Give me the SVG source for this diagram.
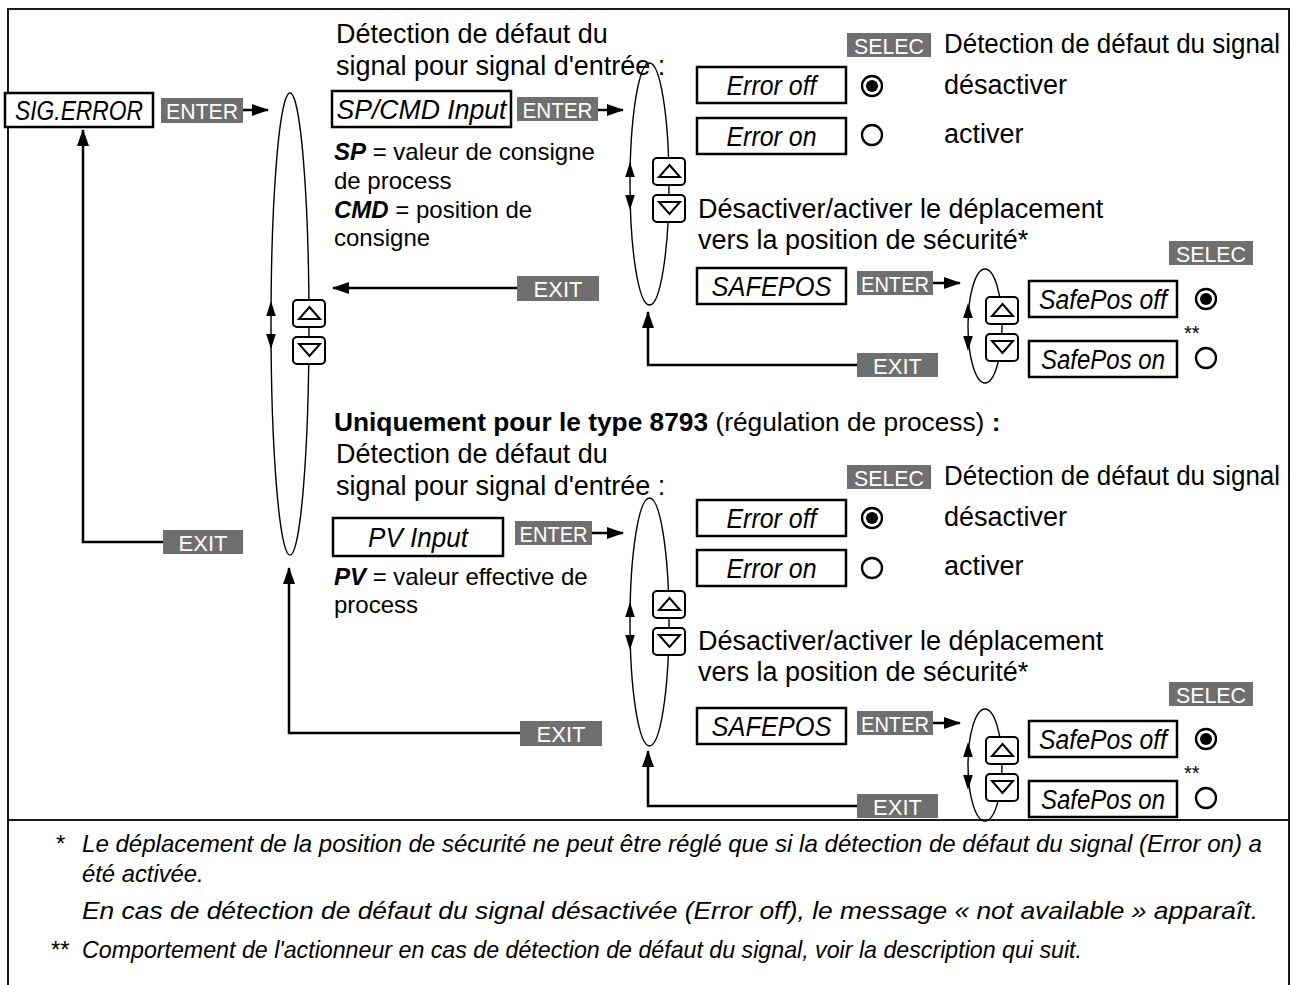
<svg xmlns="http://www.w3.org/2000/svg" xmlns:xlink="http://www.w3.org/1999/xlink" width="1294" height="985" viewBox="0 0 1294 985">
  <style>
    text { font-family: "Liberation Sans", Arial, Helvetica, sans-serif; fill: #000; }
    .frame { fill: none; stroke: #1a1a1a; stroke-width: 2; }
    .box { fill: #fff; stroke: #000; stroke-width: 2.5; }
    .lbl { font-size: 27px; font-style: italic; text-anchor: middle; }
    .key { fill: #6f6f6f; }
    .keytxt { font-size: 22px; fill: #fff; text-anchor: middle; }
    .hd { font-size: 27px; }
    .hd2 { font-size: 26.3px; }
    .ds { font-size: 24px; }
    .b { font-weight: bold; }
    .bi { font-weight: bold; font-style: italic; }
    .ell { fill: none; stroke: #000; stroke-width: 1.4; }
    .conn { fill: none; stroke: #000; stroke-width: 2.5; }
    .btn { fill: #fff; stroke: #000; stroke-width: 2; }
    .tri { fill: none; stroke: #000; stroke-width: 2; stroke-linejoin: miter; }
    .ring { fill: #fff; stroke: #000; stroke-width: 2.3; }
    .dot { fill: #000; }
    .head { fill: #000; }
    .fn { font-size: 23.8px; font-style: italic; }
    .star { font-size: 20px; }
  </style>
  <defs>
    <marker id="ah" markerWidth="17" markerHeight="12" refX="16" refY="6" orient="auto" markerUnits="userSpaceOnUse">
      <path d="M0,0 L17,6 L0,12 z" class="head"/>
    </marker>
    <!-- up / down key buttons -->
    <g id="btnUp">
      <rect class="btn" x="0" y="0" width="32" height="27" rx="4"/>
      <path class="tri" d="M16.5,7 L27,19 L6,19 z"/>
    </g>
    <g id="btnDn">
      <rect class="btn" x="0" y="0" width="32" height="27" rx="4"/>
      <path class="tri" d="M6,7 L27,7 L16.5,19 z"/>
    </g>
    <!-- double arrow drawn on the left side of a selection loop -->
    <g id="updn">
      <path class="head" d="M0,-24 L4.8,-9 L-4.8,-9 z"/>
      <path class="head" d="M0,24 L4.8,9 L-4.8,9 z"/>
    </g>
    <g id="radioOn">
      <circle class="ring" r="10"/>
      <circle class="dot" r="6"/>
    </g>
    <g id="radioOff">
      <circle class="ring" r="10"/>
    </g>
  </defs>

  <!-- outer frame and footnote divider -->
  <path class="frame" d="M8,985 V9 H1289 V985"/>
  <path class="frame" d="M8,820 H1289"/>

  <!-- connectors -->
  <g id="connectors">
    <path class="conn" d="M243,110 H268" marker-end="url(#ah)"/>
    <path class="conn" d="M598,110 H623" marker-end="url(#ah)"/>
    <path class="conn" d="M933,283 H960" marker-end="url(#ah)"/>
    <path class="conn" d="M592,533 H623" marker-end="url(#ah)"/>
    <path class="conn" d="M933,723 H960" marker-end="url(#ah)"/>
    <path class="conn" d="M517,288 H333" marker-end="url(#ah)"/>
    <path class="conn" d="M163,542 H83 V130" marker-end="url(#ah)"/>
    <path class="conn" d="M520,733 H289 V568" marker-end="url(#ah)"/>
    <path class="conn" d="M857,365 H648 V312" marker-end="url(#ah)"/>
    <path class="conn" d="M857,806 H648 V751" marker-end="url(#ah)"/>
    <rect class="key" x="161" y="98" width="82" height="25"/>
    <text class="keytxt" x="202" y="118.5" textLength="72" lengthAdjust="spacingAndGlyphs">ENTER</text>
    <rect class="key" x="517" y="97" width="81" height="24"/>
    <text class="keytxt" x="557.5" y="117.5" textLength="70" lengthAdjust="spacingAndGlyphs">ENTER</text>
    <rect class="key" x="857" y="271" width="76" height="24"/>
    <text class="keytxt" x="895" y="291.5" textLength="68" lengthAdjust="spacingAndGlyphs">ENTER</text>
    <rect class="key" x="515" y="521" width="77" height="24"/>
    <text class="keytxt" x="553.5" y="541.5" textLength="68" lengthAdjust="spacingAndGlyphs">ENTER</text>
    <rect class="key" x="857" y="711" width="76" height="24"/>
    <text class="keytxt" x="895" y="731.5" textLength="68" lengthAdjust="spacingAndGlyphs">ENTER</text>
    <rect class="key" x="517" y="276" width="82" height="25"/>
    <text class="keytxt" x="558" y="296.5">EXIT</text>
    <rect class="key" x="163" y="530" width="80" height="24"/>
    <text class="keytxt" x="203" y="550.5">EXIT</text>
    <rect class="key" x="520" y="721" width="82" height="25"/>
    <text class="keytxt" x="561" y="741.5">EXIT</text>
    <rect class="key" x="857" y="353" width="81" height="24"/>
    <text class="keytxt" x="897.5" y="373.5">EXIT</text>
    <rect class="key" x="857" y="794" width="81" height="24"/>
    <text class="keytxt" x="897.5" y="814.5">EXIT</text>
  </g>

  <!-- main menu entry -->
  <g id="sig-error">
    <rect class="box" x="5" y="93" width="148" height="34"/>
    <text class="lbl" x="79" y="119.5" textLength="128" lengthAdjust="spacingAndGlyphs">SIG.ERROR</text>
  </g>

  <!-- main selection loop -->
  <g id="loop-main">
    <ellipse class="ell" cx="290" cy="324" rx="19" ry="231"/>
    <use xlink:href="#updn" x="271" y="325"/>
    <use xlink:href="#btnUp" x="293" y="300"/>
    <use xlink:href="#btnDn" x="293" y="337"/>
  </g>

  <!-- SP/CMD input branch -->
  <g id="sp-cmd-input">
    <text class="hd" x="336" y="43">Détection de défaut du</text>
    <text class="hd" x="336" y="75">signal pour signal d'entrée :</text>
    <rect class="box" x="332" y="91" width="179" height="36"/>
    <text class="lbl" x="421.5" y="118.5" textLength="170" lengthAdjust="spacingAndGlyphs">SP/CMD Input</text>
    <text class="ds" x="334" y="160"><tspan class="bi">SP</tspan> = valeur de consigne</text>
    <text class="ds" x="334" y="189">de process</text>
    <text class="ds" x="334" y="218"><tspan class="bi">CMD</tspan> = position de</text>
    <text class="ds" x="334" y="246">consigne</text>
  </g>

  <g id="loop-sp-cmd">
    <ellipse class="ell" cx="649.5" cy="184" rx="19.5" ry="121"/>
    <use xlink:href="#updn" x="630" y="186"/>
    <use xlink:href="#btnUp" x="653" y="158"/>
    <use xlink:href="#btnDn" x="653" y="195"/>
  </g>

  <g id="error-select-1">
    <rect class="key" x="847" y="33" width="84" height="24"/>
    <text class="keytxt" x="889" y="53.5" textLength="70" lengthAdjust="spacingAndGlyphs">SELEC</text>
    <text class="hd" x="944" y="53" textLength="336" lengthAdjust="spacingAndGlyphs">Détection de défaut du signal</text>
    <rect class="box" x="697" y="67" width="149" height="36"/>
    <text class="lbl" x="771.5" y="94.5" textLength="90" lengthAdjust="spacingAndGlyphs">Error off</text>
    <use xlink:href="#radioOn" x="872" y="86"/>
    <text class="hd" x="944" y="94">désactiver</text>
    <rect class="box" x="697" y="118" width="149" height="36"/>
    <text class="lbl" x="771.5" y="145.5" textLength="90" lengthAdjust="spacingAndGlyphs">Error on</text>
    <use xlink:href="#radioOff" x="872" y="135"/>
    <text class="hd" x="944" y="143">activer</text>
  </g>

  <g id="safepos-1">
    <text class="hd" x="698" y="218">Désactiver/activer le déplacement</text>
    <text class="hd" x="698" y="249">vers la position de sécurité*</text>
    <rect class="box" x="697" y="268" width="149" height="36"/>
    <text class="lbl" x="771.5" y="295.5" textLength="120" lengthAdjust="spacingAndGlyphs">SAFEPOS</text>
  </g>

  <g id="safepos-select-1">
    <rect class="key" x="1169" y="241" width="84" height="24"/>
    <text class="keytxt" x="1211" y="261.5" textLength="70" lengthAdjust="spacingAndGlyphs">SELEC</text>
    <ellipse class="ell" cx="985" cy="326" rx="17" ry="57"/>
    <use xlink:href="#updn" x="968" y="327"/>
    <use xlink:href="#btnUp" x="986" y="297"/>
    <use xlink:href="#btnDn" x="986" y="334"/>
    <rect class="box" x="1029" y="281" width="148" height="36"/>
    <text class="lbl" x="1103" y="308.5" textLength="128" lengthAdjust="spacingAndGlyphs">SafePos off</text>
    <use xlink:href="#radioOn" x="1206" y="299"/>
    <text class="star" x="1184" y="340">**</text>
    <rect class="box" x="1029" y="341" width="148" height="36"/>
    <text class="lbl" x="1103" y="368.5" textLength="124" lengthAdjust="spacingAndGlyphs">SafePos on</text>
    <use xlink:href="#radioOff" x="1206" y="358"/>
  </g>

  <!-- PV input branch (type 8793 only) -->
  <g id="pv-input">
    <text class="hd2" x="334" y="431"><tspan class="b">Uniquement pour le type 8793</tspan> (régulation de process) <tspan class="b">:</tspan></text>
    <text class="hd" x="336" y="463">Détection de défaut du</text>
    <text class="hd" x="336" y="495">signal pour signal d'entrée :</text>
    <rect class="box" x="333" y="518" width="170" height="38"/>
    <text class="lbl" x="418" y="546.5" textLength="100" lengthAdjust="spacingAndGlyphs">PV Input</text>
    <text class="ds" x="334" y="585"><tspan class="bi">PV</tspan> = valeur effective de</text>
    <text class="ds" x="334" y="613">process</text>
  </g>

  <g id="loop-pv">
    <ellipse class="ell" cx="649.5" cy="622" rx="19.5" ry="124"/>
    <use xlink:href="#updn" x="630" y="626"/>
    <use xlink:href="#btnUp" x="653" y="591"/>
    <use xlink:href="#btnDn" x="653" y="628"/>
  </g>

  <g id="error-select-2">
    <rect class="key" x="847" y="465" width="84" height="24"/>
    <text class="keytxt" x="889" y="485.5" textLength="70" lengthAdjust="spacingAndGlyphs">SELEC</text>
    <text class="hd" x="944" y="485" textLength="336" lengthAdjust="spacingAndGlyphs">Détection de défaut du signal</text>
    <rect class="box" x="697" y="500" width="149" height="36"/>
    <text class="lbl" x="771.5" y="527.5" textLength="90" lengthAdjust="spacingAndGlyphs">Error off</text>
    <use xlink:href="#radioOn" x="872" y="518"/>
    <text class="hd" x="944" y="526">désactiver</text>
    <rect class="box" x="697" y="550" width="149" height="36"/>
    <text class="lbl" x="771.5" y="577.5" textLength="90" lengthAdjust="spacingAndGlyphs">Error on</text>
    <use xlink:href="#radioOff" x="872" y="568"/>
    <text class="hd" x="944" y="575">activer</text>
  </g>

  <g id="safepos-2">
    <text class="hd" x="698" y="650">Désactiver/activer le déplacement</text>
    <text class="hd" x="698" y="681">vers la position de sécurité*</text>
    <rect class="box" x="697" y="708" width="149" height="36"/>
    <text class="lbl" x="771.5" y="735.5" textLength="120" lengthAdjust="spacingAndGlyphs">SAFEPOS</text>
  </g>

  <g id="safepos-select-2">
    <rect class="key" x="1169" y="682" width="84" height="24"/>
    <text class="keytxt" x="1211" y="702.5" textLength="70" lengthAdjust="spacingAndGlyphs">SELEC</text>
    <ellipse class="ell" cx="985" cy="765" rx="17" ry="56"/>
    <use xlink:href="#updn" x="968" y="766"/>
    <use xlink:href="#btnUp" x="986" y="737"/>
    <use xlink:href="#btnDn" x="986" y="774"/>
    <rect class="box" x="1029" y="721" width="148" height="36"/>
    <text class="lbl" x="1103" y="748.5" textLength="128" lengthAdjust="spacingAndGlyphs">SafePos off</text>
    <use xlink:href="#radioOn" x="1206" y="739"/>
    <text class="star" x="1184" y="780">**</text>
    <rect class="box" x="1029" y="781" width="148" height="36"/>
    <text class="lbl" x="1103" y="808.5" textLength="124" lengthAdjust="spacingAndGlyphs">SafePos on</text>
    <use xlink:href="#radioOff" x="1206" y="798"/>
  </g>

  <!-- footnotes -->
  <g id="footnotes">
    <text class="fn" x="55" y="852">*</text>
    <text class="fn" x="82" y="852" textLength="1180" lengthAdjust="spacingAndGlyphs">Le déplacement de la position de sécurité ne peut être réglé que si la détection de défaut du signal (Error on) a</text>
    <text class="fn" x="82" y="882">été activée.</text>
    <text class="fn" x="82" y="919" textLength="1176" lengthAdjust="spacingAndGlyphs">En cas de détection de défaut du signal désactivée (Error off), le message « not available » apparaît.</text>
    <text class="fn" x="50" y="958">**</text>
    <text class="fn" x="82" y="958" textLength="1000" lengthAdjust="spacingAndGlyphs">Comportement de l'actionneur en cas de détection de défaut du signal, voir la description qui suit.</text>
  </g>
</svg>
